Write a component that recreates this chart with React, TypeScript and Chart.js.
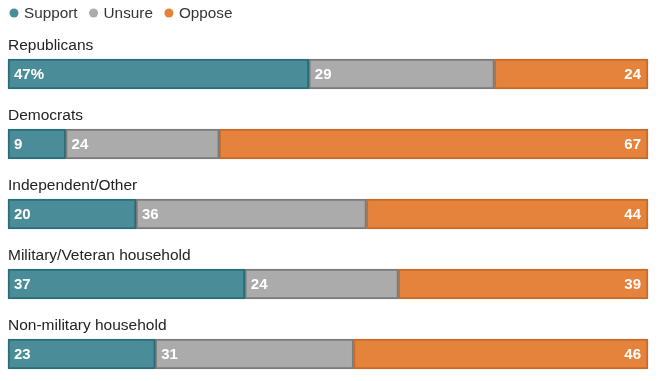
import React, { useEffect, useRef } from "react";
import { Chart, registerables } from "chart.js";

Chart.register(...registerables);

const categories = [
  "Republicans",
  "Democrats",
  "Independent/Other",
  "Military/Veteran household",
  "Non-military household",
];
const seriesNames = ["Support", "Unsure", "Oppose"];
const support = [47, 9, 20, 37, 23];
const unsure = [29, 24, 36, 24, 31];
const oppose = [24, 67, 44, 39, 46];

const fills = ["#4a8d98", "#ababab", "#e5823b"];
const borders = ["#2c6c78", "#7a7a7a", "#c76a2c"];
const legendDots = ["#4a8d98", "#ababab", "#e5823b"];
const FONT = "'Liberation Sans', Arial, sans-serif";

const overlayPlugin = {
  id: "overlay",
  afterDatasetsDraw(chart: any) {
    const ctx = chart.ctx;
    ctx.save();
    // legend
    ctx.font = `15.3px ${FONT}`;
    ctx.textBaseline = "middle";
    let x = 14;
    const ly = 13;
    seriesNames.forEach((name, i) => {
      ctx.fillStyle = legendDots[i];
      ctx.beginPath();
      ctx.arc(x, ly, 4.5, 0, Math.PI * 2);
      ctx.fill();
      ctx.fillStyle = "#333";
      ctx.textAlign = "left";
      ctx.fillText(name, x + 10, ly + 1);
      x += 10 + ctx.measureText(name).width + 16;
    });
    // category labels
    const yScale = chart.scales.y;
    ctx.fillStyle = "#222";
    ctx.font = `15.5px ${FONT}`;
    categories.forEach((c, i) => {
      const cy = yScale.getPixelForValue(i);
      ctx.textAlign = "left";
      ctx.fillText(c, 8, cy - 28);
    });
    // value labels
    ctx.font = `bold 15px ${FONT}`;
    ctx.fillStyle = "#fff";
    chart.data.datasets.forEach((ds: any, di: number) => {
      const meta = chart.getDatasetMeta(di);
      meta.data.forEach((bar: any, i: number) => {
        const v = ds.data[i];
        const txt = di === 0 && i === 0 ? `${v}%` : `${v}`;
        const left = Math.min(bar.x, bar.base);
        const right = Math.max(bar.x, bar.base);
        if (di === 2) {
          ctx.textAlign = "right";
          ctx.fillText(txt, right - 7, bar.y + 1);
        } else {
          ctx.textAlign = "left";
          ctx.fillText(txt, left + 6, bar.y + 1);
        }
      });
    });
    ctx.restore();
  },
};

export default function App() {
  const ref = useRef<HTMLCanvasElement | null>(null);
  useEffect(() => {
    if (!ref.current) return;
    const data = [support, unsure, oppose];
    const chart = new Chart(ref.current, {
      type: "bar",
      data: {
        labels: categories,
        datasets: seriesNames.map((n, i) => ({
          label: n,
          data: data[i],
          backgroundColor: fills[i],
          borderColor: borders[i],
          borderWidth: 2,
          borderSkipped: false,
          barThickness: 30,
          clip: false,
        })),
      },
      options: {
        indexAxis: "y",
        animation: false,
        responsive: true,
        maintainAspectRatio: false,
        layout: { padding: { left: 8, right: 14, top: 74, bottom: 27 } },
        scales: {
          x: { stacked: true, min: 0, max: 100, display: false },
          y: { stacked: true, display: false, offset: false },
        },
        plugins: {
          legend: { display: false },
          tooltip: { enabled: false },
        },
      },
      plugins: [overlayPlugin],
    } as any);
    return () => chart.destroy();
  }, []);
  return (
    <div style={{ position: "absolute", left: 0, top: 0, width: 662, height: 381, background: "#fff" }}>
      <canvas ref={ref} />
    </div>
  );
}
